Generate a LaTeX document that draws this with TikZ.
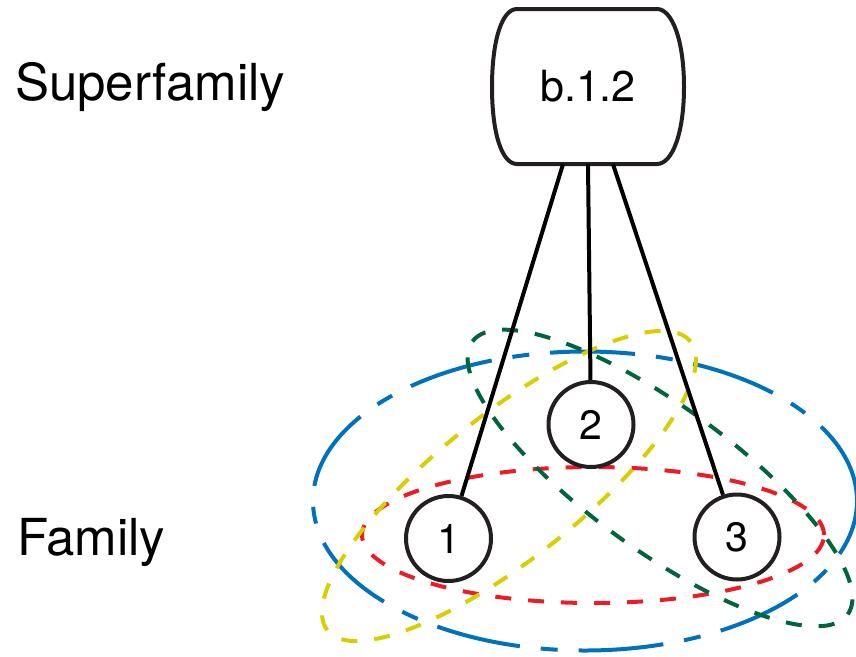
\documentclass[tikz,border=0pt]{standalone}
\usepackage{fontspec}
\setmainfont{TeX Gyre Heros}
\definecolor{ink}{RGB}{35,31,32}
\definecolor{eblue}{RGB}{0,114,188}
\definecolor{ered}{RGB}{237,28,36}
\definecolor{egreen}{RGB}{0,100,60}
\definecolor{eyellow}{RGB}{218,205,0}
\begin{document}
\begin{tikzpicture}[x=1pt,y=-1pt,
  lbl/.style={font=\fontsize{51}{60}\selectfont, inner sep=0pt, anchor=base west},
  supbox/.style={rectangle, inner sep=0pt, minimum width=192pt, minimum height=155pt, font=\fontsize{43}{50}\selectfont},
  boxline/.style={draw=ink, line width=4pt, line join=round},
  fam/.style={circle, draw=ink, fill=white, line width=4pt, minimum size=85pt, inner sep=0pt, font=\fontsize{41}{48}\selectfont},
  link/.style={draw=black, line width=4pt},
  ell/.style={line width=4pt},
  bluedash/.style={ell, draw=eblue, dash pattern=on 85pt off 21pt on 17pt off 21pt},
  smalldash/.style={ell, dash pattern=on 16pt off 17pt},
]
\useasboundingbox (0,0) rectangle (856,656);

% groupings
\draw[bluedash] (585,501) ellipse [x radius=272pt, y radius=149.5pt];
\draw[smalldash, draw=ered] (593,535) ellipse [x radius=231pt, y radius=68pt];
\draw[smalldash, draw=egreen, rotate around={-36:(660,478)}] (660,478) ellipse [x radius=232pt, y radius=72pt];
\draw[smalldash, draw=eyellow, rotate around={38.5:(509,486)}] (509,486) ellipse [x radius=232pt, y radius=72pt];

% superfamily box
\node[supbox] (b) at (588,86.5) {b.1.2};
\draw[boxline] (517,9) -- (657,9) .. controls (672,9) and (684,40) .. (684,87)
  .. controls (684,134) and (672,164) .. (657,164) -- (517,164)
  .. controls (502,164) and (492,134) .. (492,87)
  .. controls (492,40) and (502,9) .. (517,9) -- cycle;

% families
\node[fam] (c1) at (448.5,538.5) {1};
\node[fam] (c2) at (591,424.5) {2};
\node[fam] (c3) at (737,537) {3};

\draw[link] ([xshift=-25pt]b.south) -- (c1);
\draw[link] (b.south) -- (c2);
\draw[link] ([xshift=25pt]b.south) -- (c3);

% level labels
\node[lbl] (sup) at (15,100) {Superfamily};
\node[lbl] (famlbl) at (17,555) {Family};
\end{tikzpicture}
\end{document}
